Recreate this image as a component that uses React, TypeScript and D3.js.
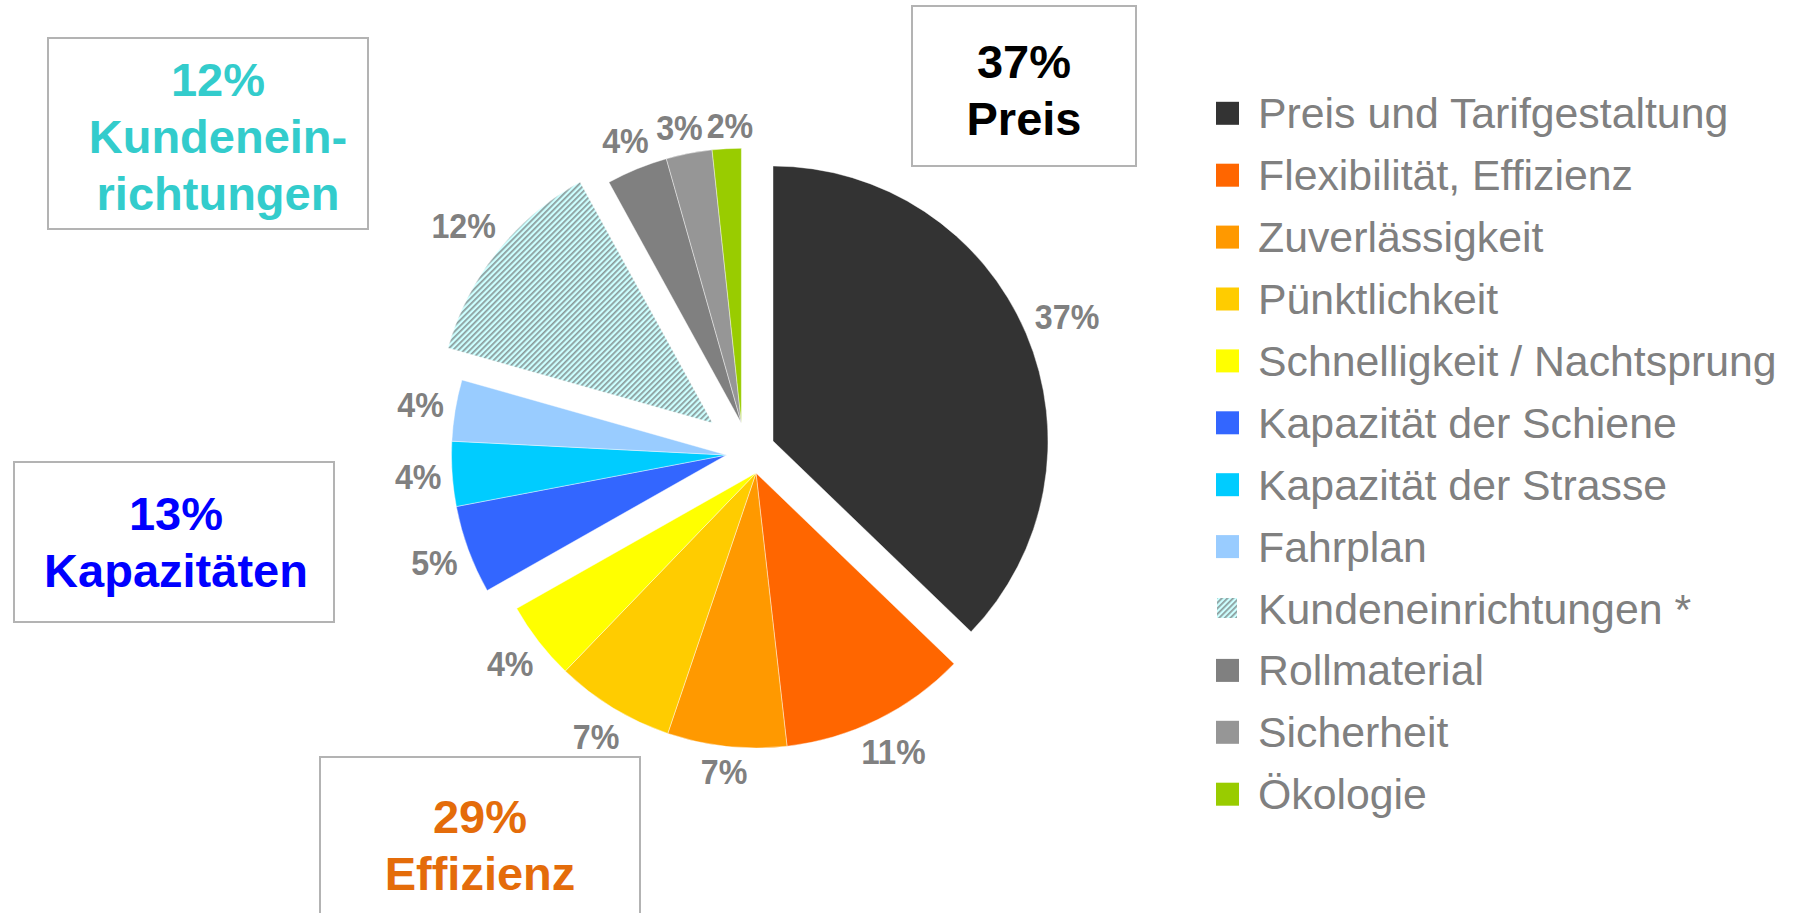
import * as d3 from "d3";

// --- data ---
const categories = [
  "Preis und Tarifgestaltung",
  "Flexibilität, Effizienz",
  "Zuverlässigkeit",
  "Pünktlichkeit",
  "Schnelligkeit / Nachtsprung",
  "Kapazität der Schiene",
  "Kapazität der Strasse",
  "Fahrplan",
  "Kundeneinrichtungen *",
  "Rollmaterial",
  "Sicherheit",
  "Ökologie",
];
// slice sizes (%)
const shares = [37.2, 11.0, 7.0, 7.0, 4.6, 5.2, 3.8, 3.6, 12.6, 3.6, 2.7, 1.7];
// percentages as printed on the chart
const shareLabels = ["37%", "11%", "7%", "7%", "4%", "5%", "4%", "4%", "12%", "4%", "3%", "2%"];
// which callout group each slice belongs to
const sliceGroup = [0, 1, 1, 1, 1, 2, 2, 2, 3, 4, 4, 4];

const calloutLines = [
  ["37%", "Preis"],
  ["29%", "Effizienz"],
  ["13%", "Kapazitäten"],
  ["12%", "Kundenein-", "richtungen"],
];

// --- style ---
const sliceColors = [
  "#333333", "#FF6600", "#FF9900", "#FFCC00", "#FFFF00", "#3366FF",
  "#00CCFF", "#99CCFF", "url(#hatch)", "#808080", "#969696", "#99CC00",
];
// explode offsets per group (px)
const groupShift: [number, number][] = [
  [24, -8.7], [7, 23.3], [-22.5, 5.3], [-36.5, -26.7], [-7.6, -26.4],
];
const calloutColors = ["#000000", "#E46C0A", "#0000FF", "#33CCCC"];
const calloutBoxes = [
  { x: 912, y: 6, w: 224, h: 160, tx: 1024, ty: 78 },
  { x: 320, y: 757, w: 320, h: 190, tx: 480, ty: 833 },
  { x: 14, y: 462, w: 320, h: 160, tx: 176, ty: 530 },
  { x: 48, y: 38, w: 320, h: 191, tx: 218, ty: 96 },
];

const W = 1794, H = 913;
const cx = 749, cy = 449.7, R = 275;
const FONT = "'Liberation Sans', Arial, Helvetica, sans-serif";
const labelSize = 35;

export default function App() {
  const pie = d3.pie<number>().sort(null).value(d => d)(shares);
  const arc = d3.arc<d3.PieArcDatum<number>>().innerRadius(0).outerRadius(R);

  const legendY = d3.scaleLinear().domain([0, categories.length - 1]).range([113.3, 794.2]);

  // outside-end label positions (absolute)
  const labels = pie.map((d, i) => {
    const [dx, dy] = groupShift[sliceGroup[i]];
    const mid = (d.startAngle + d.endAngle) / 2;
    const s = Math.sin(mid), c = -Math.cos(mid);
    const txt = shareLabels[i];
    const width = ((txt.length - 1) * 0.556 + 0.889) * labelSize * 0.92; // slightly condensed
    const hh = (0.716 * labelSize) / 2;
    const dist = R + 10 + Math.abs(s) * (width / 2) + Math.abs(c) * hh;
    return { txt, width, x: cx + dx + s * dist, y: cy + dy + c * dist };
  });
  // push apart neighbours that collide
  for (let i = 1; i < labels.length; i++) {
    const a = labels[i - 1], b = labels[i];
    const overlapX = (a.width + b.width) / 2 + 4 - Math.abs(b.x - a.x);
    if (overlapX > 0 && Math.abs(b.y - a.y) < labelSize * 0.8) {
      const dir = b.x >= a.x ? 1 : -1;
      a.x -= (dir * overlapX) / 2;
      b.x += (dir * overlapX) / 2;
    }
  }

  return (
    <svg width={W} height={H} style={{ position: "absolute", left: 0, top: 0, background: "#fff" }}
      fontFamily={FONT}>
      <defs>
        <pattern id="hatch" patternUnits="userSpaceOnUse" width={4} height={4} patternTransform="rotate(45)">
          <rect width={4} height={4} fill="#CCFFFF" />
          <rect width={1.7} height={4} fill="#8A9A9A" />
        </pattern>
      </defs>

      {/* pie */}
      {pie.map((d, i) => {
        const [dx, dy] = groupShift[sliceGroup[i]];
        return (
          <path key={i} transform={`translate(${cx + dx},${cy + dy})`} d={arc(d) || ""}
            fill={sliceColors[i]} stroke="#ffffff" strokeWidth={0.6} strokeOpacity={0.7} />
        );
      })}
      {labels.map((l, i) => (
        <text key={i} x={l.x} y={l.y} dy="0.36em" textAnchor="middle" fontSize={labelSize}
          fontWeight="bold" fill="#808080" textLength={l.width} lengthAdjust="spacingAndGlyphs">{l.txt}</text>
      ))}

      {/* callout boxes */}
      {calloutBoxes.map((b, i) => (
        <g key={i}>
          <rect x={b.x} y={b.y} width={b.w} height={b.h} fill="none" stroke="#B3B3B3" strokeWidth={2} />
          {calloutLines[i].map((line, j) => (
            <text key={j} x={b.tx} y={b.ty + j * 57} textAnchor="middle" fontSize={47}
              fontWeight="bold" fill={calloutColors[i]}>{line}</text>
          ))}
        </g>
      ))}

      {/* legend */}
      {categories.map((name, i) => (
        <g key={name} transform={`translate(1216,${legendY(i)})`}>
          <rect x={i === 8 ? 1 : 0} y={i === 8 ? -10.5 : -11.5} width={i === 8 ? 20 : 23} height={i === 8 ? 20 : 23}
            fill={sliceColors[i]} />
          <text x={42} y={15} fontSize={42.8} fill="#808080">{name}</text>
        </g>
      ))}
    </svg>
  );
}
